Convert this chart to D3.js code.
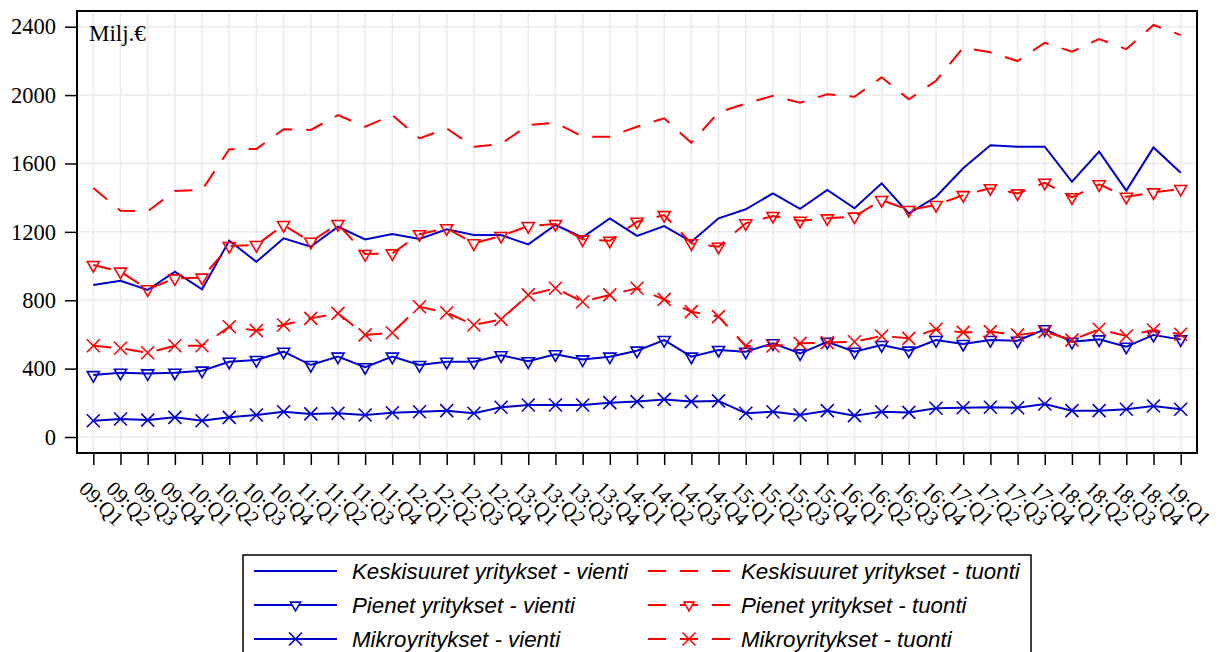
<!DOCTYPE html>
<html>
<head>
<meta charset="utf-8">
<script src="https://cdn.jsdelivr.net/npm/d3@7/dist/d3.min.js"></script>
<style>
  body { margin: 0; background: #fff; }
  svg { display: block; }
</style>
</head>
<body>
<svg id="chart"></svg>
<script>
// quarters on the x axis
const quarters = [
  "09:Q1", "09:Q2", "09:Q3", "09:Q4", "10:Q1", "10:Q2", "10:Q3", "10:Q4",
  "11:Q1", "11:Q2", "11:Q3", "11:Q4", "12:Q1", "12:Q2", "12:Q3", "12:Q4",
  "13:Q1", "13:Q2", "13:Q3", "13:Q4", "14:Q1", "14:Q2", "14:Q3", "14:Q4",
  "15:Q1", "15:Q2", "15:Q3", "15:Q4", "16:Q1", "16:Q2", "16:Q3", "16:Q4",
  "17:Q1", "17:Q2", "17:Q3", "17:Q4", "18:Q1", "18:Q2", "18:Q3", "18:Q4",
  "19:Q1"
];

const yTicks = [0, 400, 800, 1200, 1600, 2000, 2400];

// Milj. euro
const keskiVienti = [889, 914, 860, 967, 864, 1148, 1025, 1162, 1113, 1230,
  1156, 1187, 1158, 1215, 1181, 1181, 1127, 1240, 1168, 1279,
  1176, 1234, 1142, 1279, 1332, 1425, 1334, 1445, 1338, 1484,
  1308, 1405, 1572, 1706, 1698, 1698, 1493, 1669, 1441, 1694, 1546];
const pienetVienti = [362, 376, 372, 376, 388, 440, 450, 499, 421, 470,
  408, 470, 421, 440, 440, 478, 443, 484, 454, 470,
  505, 567, 470, 509, 499, 548, 489, 557, 499, 538,
  505, 567, 544, 567, 563, 630, 557, 571, 528, 597, 571];
const mikroVienti = [95, 105, 99, 115, 95, 115, 129, 148, 135, 139,
  129, 142, 148, 154, 139, 174, 187, 187, 187, 201,
  207, 220, 207, 211, 139, 148, 129, 154, 125, 148,
  144, 168, 171, 174, 171, 193, 154, 154, 162, 181, 162];
const keskiTuonti = [1456, 1324, 1320, 1439, 1445, 1683, 1685, 1800, 1796, 1883,
  1815, 1883, 1747, 1805, 1698, 1714, 1825, 1838, 1757, 1757,
  1815, 1864, 1721, 1899, 1950, 1996, 1955, 2005, 1990, 2104,
  1975, 2084, 2277, 2250, 2199, 2306, 2254, 2328, 2269, 2410, 2351];
const pienetTuonti = [1006, 967, 864, 928, 932, 1117, 1123, 1240, 1142, 1246,
  1070, 1074, 1186, 1221, 1133, 1176, 1234, 1246, 1156, 1148,
  1259, 1298, 1133, 1113, 1250, 1293, 1265, 1279, 1289, 1386,
  1328, 1357, 1415, 1455, 1425, 1487, 1402, 1478, 1405, 1431, 1451];
const mikroTuonti = [534, 519, 493, 534, 534, 645, 622, 655, 694, 723,
  597, 610, 762, 727, 655, 688, 831, 870, 791, 831,
  870, 805, 733, 704, 532, 532, 548, 552, 557, 591,
  577, 630, 612, 616, 597, 616, 567, 630, 591, 626, 601];

const BLUE = "#0000cc";
const RED = "#ff0000";
const DASH = "18,14";

const series = [
  { name: "Keskisuuret yritykset - vienti", values: keskiVienti, color: BLUE, dash: null, marker: null },
  { name: "Pienet yritykset - vienti", values: pienetVienti, color: BLUE, dash: null, marker: "tri" },
  { name: "Mikroyritykset - vienti", values: mikroVienti, color: BLUE, dash: null, marker: "x" },
  { name: "Keskisuuret yritykset - tuonti", values: keskiTuonti, color: RED, dash: DASH, marker: null },
  { name: "Pienet yritykset - tuonti", values: pienetTuonti, color: RED, dash: DASH, marker: "tri" },
  { name: "Mikroyritykset - tuonti", values: mikroTuonti, color: RED, dash: DASH, marker: "x" }
];

const WIDTH = 1224, HEIGHT = 652;
const LEFT = 77, RIGHT = 1197, TOP = 11, BOTTOM = 453;
const SERIF = "'Liberation Serif', 'Times New Roman', serif";
const SANS = "'Liberation Sans', Arial, sans-serif";

const svg = d3.select("#chart").attr("width", WIDTH).attr("height", HEIGHT);

const x = d3.scaleLinear().domain([-0.6, quarters.length - 0.4]).range([LEFT, RIGHT]);
const y = d3.scaleLinear().domain([0, 2400]).range([437, 26.7]);

// grid
const grid = svg.append("g").attr("stroke", "#ebebeb").attr("stroke-width", 1.5);
grid.selectAll(".vg").data(quarters).enter().append("line")
  .attr("x1", (d, i) => x(i)).attr("x2", (d, i) => x(i))
  .attr("y1", TOP).attr("y2", BOTTOM);
grid.selectAll(".hg").data(yTicks).enter().append("line")
  .attr("x1", LEFT).attr("x2", RIGHT)
  .attr("y1", d => y(d)).attr("y2", d => y(d));

// axes
const yAxis = svg.append("g")
  .attr("transform", `translate(${LEFT},0)`)
  .call(d3.axisLeft(y).tickValues(yTicks).tickSize(12).tickPadding(9).tickFormat(d3.format("d")));
yAxis.select(".domain").remove();
yAxis.selectAll("line").attr("stroke", "#000").attr("stroke-width", 1.5);
yAxis.selectAll("text").attr("font-family", SERIF).attr("font-size", 22.5).attr("fill", "#000");

const xAxis = svg.append("g")
  .attr("transform", `translate(0,${BOTTOM})`)
  .call(d3.axisBottom(x).tickValues(d3.range(quarters.length)).tickSize(12).tickFormat(i => quarters[i]));
xAxis.select(".domain").remove();
xAxis.selectAll("line").attr("stroke", "#000").attr("stroke-width", 1.5);
xAxis.selectAll("text")
  .attr("font-family", SERIF).attr("font-size", 21).attr("fill", "#000")
  .attr("x", 0).attr("y", 0).attr("dy", null)
  .attr("text-anchor", "start")
  .attr("transform", "translate(-16,37) rotate(45)");

// frame
svg.append("rect")
  .attr("x", LEFT).attr("y", TOP)
  .attr("width", RIGHT - LEFT).attr("height", BOTTOM - TOP)
  .attr("fill", "none").attr("stroke", "#000").attr("stroke-width", 2);

svg.append("text")
  .attr("x", 89).attr("y", 41)
  .attr("font-family", SERIF).attr("font-size", 23)
  .text("Milj.€");

const triangle = d3.symbol(d3.symbolTriangle, 64);
const cross = d3.symbol(d3.symbolTimes, 112);

const line = d3.line().x((d, i) => x(i)).y(d => y(d));

series.forEach(s => {
  svg.append("path")
    .datum(s.values)
    .attr("d", line)
    .attr("fill", "none")
    .attr("stroke", s.color)
    .attr("stroke-width", 2)
    .attr("stroke-dasharray", s.dash);

  if (s.marker) {
    svg.append("g").selectAll("path").data(s.values).enter().append("path")
      .attr("transform", (d, i) => `translate(${x(i)},${y(d)})` + (s.marker === "tri" ? " rotate(180)" : ""))
      .attr("d", s.marker === "tri" ? triangle() : cross())
      .attr("fill", "none")
      .attr("stroke", s.color)
      .attr("stroke-width", 1.6);
  }
});

// legend
const legend = svg.append("g");
legend.append("rect")
  .attr("x", 243).attr("y", 555).attr("width", 788).attr("height", 120)
  .attr("fill", "none").attr("stroke", "#000").attr("stroke-width", 1.5);

const rowY = [571, 605, 639];
const colX = [{ x1: 254, x2: 337, text: 352 }, { x1: 648, x2: 730, text: 741 }];

series.forEach((s, k) => {
  const col = colX[Math.floor(k / 3)];
  const cy = rowY[k % 3];
  const item = legend.append("g");
  item.append("line")
    .attr("x1", col.x1).attr("x2", col.x2).attr("y1", cy).attr("y2", cy)
    .attr("stroke", s.color).attr("stroke-width", 2)
    .attr("stroke-dasharray", s.dash);
  if (s.marker) {
    item.append("path")
      .attr("transform", `translate(${(col.x1 + col.x2) / 2},${cy})` + (s.marker === "tri" ? " rotate(180)" : ""))
      .attr("d", s.marker === "tri" ? d3.symbol(d3.symbolTriangle, 44)() : cross())
      .attr("fill", "#fff")
      .attr("stroke", s.color)
      .attr("stroke-width", 1.6);
  }
  item.append("text")
    .attr("x", col.text).attr("y", cy + 8)
    .attr("font-family", SANS).attr("font-size", 22.3).attr("font-style", "italic")
    .text(s.name);
});
</script>
</body>
</html>
